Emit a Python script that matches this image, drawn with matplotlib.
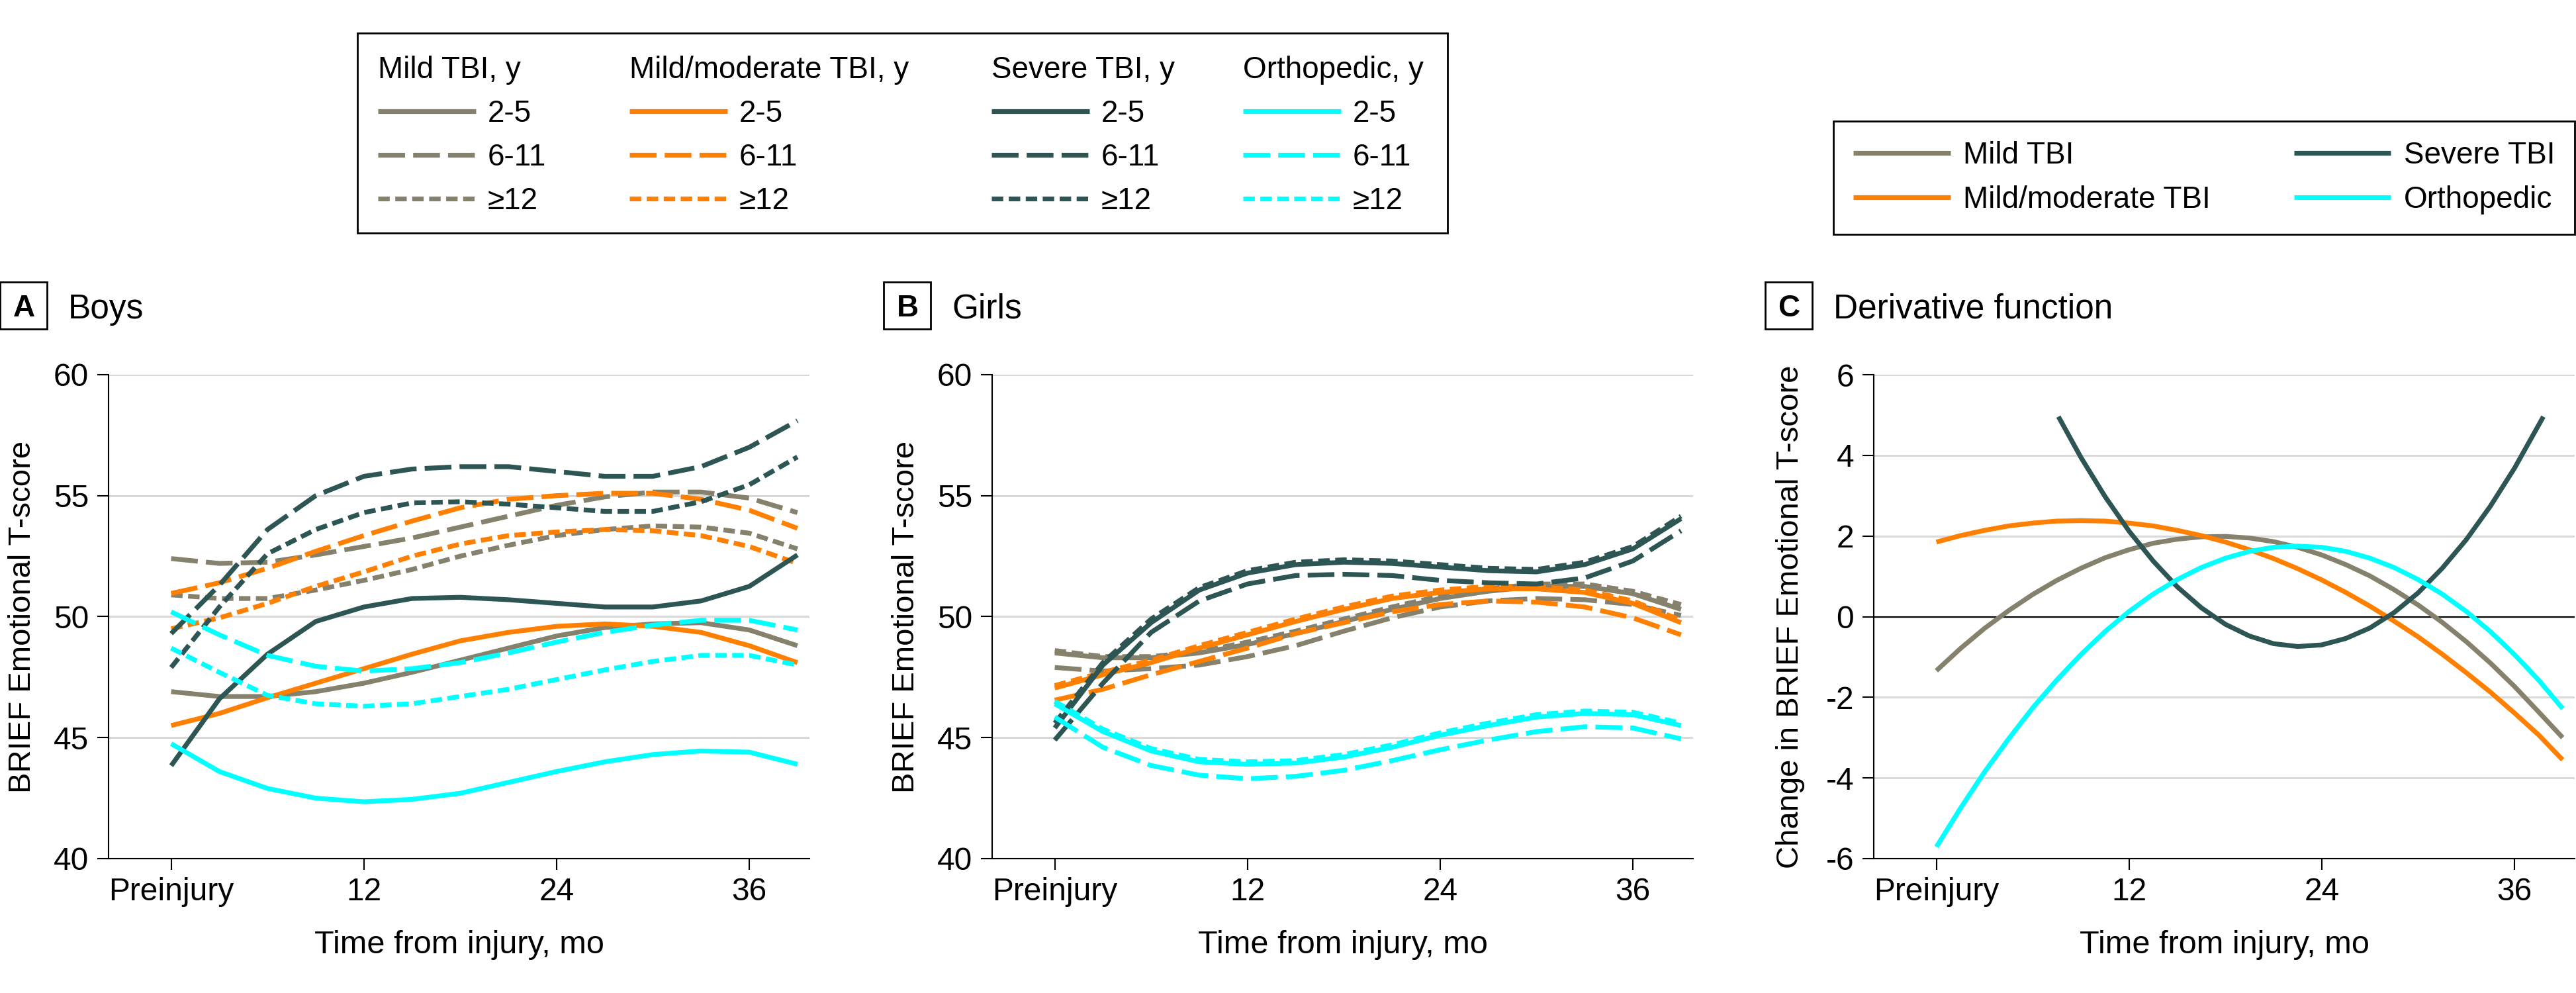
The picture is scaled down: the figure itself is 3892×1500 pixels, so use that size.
import matplotlib
matplotlib.use('Agg')
import matplotlib.pyplot as plt
from matplotlib.patches import Rectangle

plt.rcParams['font.family'] = ['Liberation Sans', 'DejaVu Sans']
plt.rcParams['axes.unicode_minus'] = False

# ---- data ----
months = [0, 3, 6, 9, 12, 15, 18, 21, 24, 27, 30, 33, 36, 39]
tick_pos = [0, 12, 24, 36]
tick_labels = ['Preinjury', '12', '24', '36']
age_labels = ['2-5', '6-11', '≥12']
groups = ['Mild TBI', 'Mild/moderate TBI', 'Severe TBI', 'Orthopedic']

# Boys (panel A)
boys_mild = [
    [46.9, 46.7, 46.7, 46.9, 47.25, 47.7, 48.2, 48.7, 49.2, 49.55, 49.7, 49.75, 49.45, 48.8],
    [52.4, 52.2, 52.25, 52.55, 52.9, 53.25, 53.7, 54.15, 54.6, 54.95, 55.15, 55.15, 54.9, 54.3],
    [50.9, 50.75, 50.75, 51.1, 51.5, 51.95, 52.5, 52.95, 53.35, 53.6, 53.75, 53.7, 53.45, 52.8],
]
boys_mm = [
    [45.5, 46.0, 46.65, 47.25, 47.85, 48.45, 49.0, 49.35, 49.6, 49.7, 49.6, 49.35, 48.8, 48.1],
    [50.96, 51.4, 52.0, 52.7, 53.35, 53.95, 54.5, 54.85, 55.0, 55.1, 55.1, 54.85, 54.4, 53.65],
    [49.5, 49.95, 50.55, 51.25, 51.85, 52.5, 53.0, 53.35, 53.5, 53.6, 53.55, 53.35, 52.9, 52.2],
]
boys_sev = [
    [43.84, 46.6, 48.45, 49.8, 50.4, 50.75, 50.8, 50.7, 50.55, 50.4, 50.4, 50.65, 51.25, 52.55],
    [49.3, 51.3, 53.6, 55.0, 55.8, 56.1, 56.2, 56.2, 56.0, 55.8, 55.8, 56.2, 57.0, 58.1],
    [47.9, 50.4, 52.6, 53.6, 54.3, 54.7, 54.75, 54.65, 54.5, 54.35, 54.35, 54.75, 55.45, 56.6],
]
boys_ort = [
    [44.75, 43.6, 42.9, 42.5, 42.35, 42.45, 42.7, 43.15, 43.6, 44.0, 44.3, 44.45, 44.4, 43.9],
    [50.2, 49.25, 48.4, 47.95, 47.75, 47.85, 48.1, 48.5, 48.95, 49.35, 49.65, 49.85, 49.85, 49.45],
    [48.7, 47.7, 46.75, 46.4, 46.3, 46.4, 46.7, 47.0, 47.4, 47.8, 48.15, 48.4, 48.4, 48.0],
]

# Girls (panel B)
girls_mild = [
    [48.5, 48.3, 48.3, 48.5, 48.85, 49.3, 49.8, 50.3, 50.75, 51.05, 51.25, 51.25, 50.95, 50.3],
    [47.9, 47.75, 47.85, 48.0, 48.35, 48.8, 49.4, 49.95, 50.4, 50.65, 50.75, 50.7, 50.5, 50.05],
    [48.6, 48.35, 48.35, 48.55, 48.95, 49.4, 49.9, 50.4, 50.85, 51.15, 51.35, 51.35, 51.05, 50.5],
]
girls_mm = [
    [47.05, 47.6, 48.1, 48.7, 49.25, 49.8, 50.3, 50.75, 51.0, 51.15, 51.15, 51.0, 50.55, 49.75],
    [46.55, 47.0, 47.6, 48.15, 48.7, 49.3, 49.75, 50.2, 50.5, 50.65, 50.6, 50.4, 49.95, 49.25],
    [47.15, 47.7, 48.2, 48.8, 49.35, 49.9, 50.4, 50.85, 51.1, 51.25, 51.25, 51.1, 50.65, 49.85],
]
girls_sev = [
    [45.4, 48.0, 49.75, 51.1, 51.8, 52.15, 52.25, 52.2, 52.05, 51.9, 51.85, 52.15, 52.8, 54.05],
    [44.9, 47.25, 49.35, 50.65, 51.35, 51.7, 51.75, 51.7, 51.5, 51.4, 51.35, 51.6, 52.3, 53.55],
    [45.6, 48.1, 49.9, 51.2, 51.9, 52.25, 52.35, 52.3, 52.15, 52.0, 51.95, 52.25, 52.9, 54.15],
]
girls_ort = [
    [46.4, 45.25, 44.45, 44.0, 43.9, 43.95, 44.2, 44.6, 45.1, 45.5, 45.85, 46.0, 45.95, 45.5],
    [45.85, 44.6, 43.85, 43.45, 43.3, 43.4, 43.65, 44.05, 44.5, 44.9, 45.25, 45.45, 45.4, 44.95],
    [46.5, 45.35, 44.55, 44.1, 44.0, 44.05, 44.3, 44.7, 45.2, 45.6, 45.95, 46.1, 46.05, 45.6],
]

# Derivative function (panel C)
months_c = [0, 1.5, 3, 4.5, 6, 7.5, 9, 10.5, 12, 13.5, 15, 16.5, 18, 19.5, 21, 22.5,
            24, 25.5, 27, 28.5, 30, 31.5, 33, 34.5, 36, 37.5, 39]
deriv_mild = [-1.34, -0.79, -0.29, 0.15, 0.55, 0.90, 1.20, 1.46, 1.66, 1.82, 1.92, 1.98, 1.99, 1.95,
              1.86, 1.72, 1.53, 1.29, 1.01, 0.67, 0.29, -0.14, -0.62, -1.15, -1.73, -2.36, -3.0]
deriv_mm = [1.85, 2.01, 2.14, 2.25, 2.32, 2.37, 2.38, 2.37, 2.32, 2.25, 2.14, 2.01, 1.85, 1.66,
            1.44, 1.19, 0.91, 0.60, 0.26, -0.11, -0.50, -0.93, -1.39, -1.87, -2.39, -2.93, -3.55]
deriv_ort = [-5.71, -4.75, -3.85, -3.03, -2.26, -1.57, -0.94, -0.37, 0.13, 0.56, 0.92, 1.22, 1.45, 1.62,
             1.72, 1.75, 1.72, 1.62, 1.45, 1.22, 0.92, 0.56, 0.13, -0.37, -0.94, -1.57, -2.28]
months_sev_c = [7.6, 9, 10.5, 12, 13.5, 15, 16.5, 18, 19.5, 21, 22.5, 24, 25.5, 27, 28.5, 30,
                31.5, 33, 34.5, 36, 37.8]
deriv_sev = [4.96, 3.95, 2.98, 2.12, 1.38, 0.74, 0.22, -0.19, -0.48, -0.67, -0.74, -0.70, -0.54,
             -0.28, 0.10, 0.59, 1.20, 1.91, 2.74, 3.68, 4.96]

# ---- style ----
W, H = 3892, 1500
colors = ['#85816c', '#ff7f00', '#2c5553', '#00ffff']
styles = ['-', (0, (5.6, 1.7)), (0, (2.4, 1.15))]
LW = 5.2
GRID = '#d9d9d9'

fig = plt.figure(figsize=(W / 100, H / 100), dpi=100)

# axes placed in pixel terms of the original layout
ax_w, ax_h = 1059 / W, 731 / H
ax_b = 1 - 1297 / H
ax_a = fig.add_axes([164 / W, ax_b, ax_w, ax_h])
ax_g = fig.add_axes([1499 / W, ax_b, ax_w, ax_h])
ax_c = fig.add_axes([2831 / W, ax_b, ax_w, ax_h])


def setup(ax, ylim, yticks, ylabel, label_x):
    ax.set_xlim(-3.9, 39.75)
    ax.set_ylim(*ylim)
    ax.set_xticks(tick_pos, labels=tick_labels)
    ax.set_yticks(yticks)
    ax.spines['top'].set_visible(False)
    ax.spines['right'].set_visible(False)
    for s in ['left', 'bottom']:
        ax.spines[s].set_linewidth(1.5)
    ax.tick_params(axis='both', length=12.5, width=1.5, labelsize=34.5)
    ax.tick_params(axis='x', pad=8)
    ax.tick_params(axis='y', pad=9)
    ax.grid(axis='y', color=GRID, lw=2.2)
    ax.set_axisbelow(True)
    ax.set_xlabel('Time from injury, mo', fontsize=35)
    ax.xaxis.set_label_coords(0.5, -0.148)
    ax.set_ylabel(ylabel, fontsize=34)
    ax.yaxis.set_label_coords(label_x, 0.5)


def panel_label(ax, letter, title):
    x0 = ax.get_position().x0 - 164 / W
    y0 = 1 - 497 / H
    fig.add_artist(Rectangle((x0, y0), 71 / W, 71 / H, transform=fig.transFigure,
                             fill=False, ec='black', lw=2))
    fig.text(x0 + 36 / W, 1 - 478.5 / H, letter, ha='center', va='baseline',
             fontsize=33, fontweight='bold')
    fig.text(x0 + 103 / W, 1 - 480.5 / H, title, ha='left', va='baseline', fontsize=37)


boys = [boys_mild, boys_mm, boys_sev, boys_ort]
girls = [girls_mild, girls_mm, girls_sev, girls_ort]

legend_lines = []
for gi in range(4):
    col = []
    for ai in range(3):
        ln, = ax_a.plot(months, boys[gi][ai], color=colors[gi], ls=styles[ai], lw=LW,
                        solid_capstyle='butt', dash_capstyle='butt')
        ax_g.plot(months, girls[gi][ai], color=colors[gi], ls=styles[ai], lw=LW,
                  solid_capstyle='butt', dash_capstyle='butt')
        col.append(ln)
    legend_lines.append(col)

ax_c.axhline(0, color='black', lw=1.5, zorder=1.5)
deriv_lines = []
for xs, ys, c in [(months_c, deriv_mild, colors[0]), (months_c, deriv_mm, colors[1]),
                  (months_sev_c, deriv_sev, colors[2]), (months_c, deriv_ort, colors[3])]:
    ln, = ax_c.plot(xs, ys, color=c, lw=LW, solid_capstyle='butt')
    deriv_lines.append(ln)

setup(ax_a, (40, 60), [40, 45, 50, 55, 60], 'BRIEF Emotional T-score', -0.102)
setup(ax_g, (40, 60), [40, 45, 50, 55, 60], 'BRIEF Emotional T-score', -0.102)
setup(ax_c, (-6, 6), [-6, -4, -2, 0, 2, 4, 6], 'Change in BRIEF Emotional T-score', -0.098)

panel_label(ax_a, 'A', 'Boys')
panel_label(ax_g, 'B', 'Girls')
panel_label(ax_c, 'C', 'Derivative function')

# top legend: one column per group, framed together
col_x = [571, 951, 1498, 1878]
for gi in range(4):
    fig.legend(legend_lines[gi], age_labels, title=groups[gi] + ', y', loc='upper left',
               bbox_to_anchor=(col_x[gi] / W, 1 - 84 / H), frameon=False, borderpad=0,
               borderaxespad=0, handlelength=3.23, handletextpad=0.39, labelspacing=0.48,
               fontsize=33, title_fontsize=33, alignment='left')
fig.add_artist(Rectangle((540 / W, 1 - 352 / H), (2187 - 540) / W, 302 / H,
                         transform=fig.transFigure, fill=False, ec='black', lw=2))

# derivative legend
leg = fig.legend(deriv_lines, groups, ncol=2, loc='upper right',
                 bbox_to_anchor=(3890 / W, 1 - 183 / H), borderaxespad=0, borderpad=0.65,
                 columnspacing=2.75, handlelength=3.2, handletextpad=0.42, labelspacing=0.5,
                 fontsize=33, fancybox=False, framealpha=1, edgecolor='black')
leg.get_frame().set_linewidth(2)

fig.savefig('out.png', dpi=100)
